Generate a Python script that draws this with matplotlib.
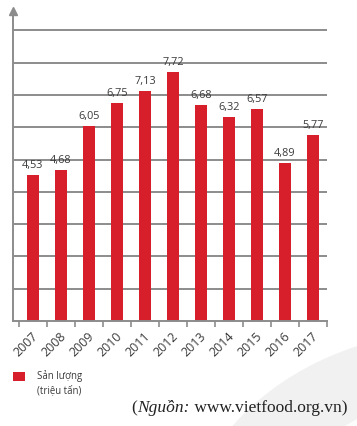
import matplotlib
matplotlib.use("Agg")
import matplotlib.pyplot as plt
from matplotlib.patches import Ellipse, Rectangle
import numpy as np

years = ["2007", "2008", "2009", "2010", "2011", "2012", "2013", "2014", "2015", "2016", "2017"]
values = [4.53, 4.68, 6.05, 6.75, 7.13, 7.72, 6.68, 6.32, 6.57, 4.89, 5.77]
value_labels = ["4,53", "4,68", "6,05", "6,75", "7,13", "7,72", "6,68", "6,32", "6,57", "4,89", "5,77"]
grid_levels = [1, 2, 3, 4, 5, 6, 7, 8, 9]
legend_label = "Sản lượng\n(triệu tấn)"
source_italic = "Nguồn:"
source_rest = " www.vietfood.org.vn)"

W, H = 357, 426
fig = plt.figure(figsize=(W / 100, H / 100), dpi=100)
fig.patch.set_facecolor("white")

# faint background swoosh (bottom right)
bg = fig.add_axes([0, 0, 1, 1], zorder=-10)
bg.set_xlim(0, W)
bg.set_ylim(H, 0)
bg.axis("off")
bg.add_patch(Ellipse((460, 560), 560, 460, facecolor="#f1f1f1", edgecolor="none"))
bg.add_patch(Ellipse((495, 590), 500, 410, facecolor="white", edgecolor="none", alpha=0.85))
bg.add_patch(Ellipse((520, 610), 470, 380, facecolor="#f2f2f2", edgecolor="none"))

red = "#d71f2b"
grey = "#8c8c8c"
txt = "#3a3a3a"
font = "Open Sans"

ax = fig.add_axes([13 / W, 1 - 321 / H, (327 - 13) / W, (321 - 11) / H])
ax.set_facecolor("none")
x = np.arange(len(years))
ax.set_xlim(-0.71, 10.39)
ax.set_ylim(0, 9.6)

for g in grid_levels:
    ax.axhline(g, color=grey, lw=1.4, zorder=1)

ax.bar(x, values, width=0.43, color=red, zorder=2)

for xi, v, lab in zip(x, values, value_labels):
    ax.text(xi, v + 0.12, lab, ha="center", va="bottom", fontsize=7.8,
            color=txt, family=font, zorder=3)

for s in ["top", "right"]:
    ax.spines[s].set_visible(False)
ax.spines["left"].set_color(grey)
ax.spines["bottom"].set_color(grey)
ax.spines["left"].set_linewidth(1.4)
ax.spines["bottom"].set_linewidth(1.4)
ax.set_yticks([])
ax.set_xticks(np.arange(-0.5, len(years), 1.0))
ax.set_xticklabels([])
ax.tick_params(axis="x", length=4, width=1.2, color=grey, direction="out")
# arrow on y axis
ax.plot([-0.71], [9.6], marker="^", markersize=6, color=grey, clip_on=False,
        transform=ax.transData, zorder=4)

trans = ax.get_xaxis_transform()
for xi, yr in zip(x, years):
    ax.text(xi - 0.25, -0.076, yr, rotation=45, ha="center", va="center",
            fontsize=9, color=txt, family=font, transform=trans)

# legend
fig.patches.append(Rectangle((13 / W, 1 - 381 / H), 12 / W, 9 / H,
                             transform=fig.transFigure, facecolor=red, edgecolor="none"))
fig.text(37 / W, 1 - 383 / H, legend_label, ha="left", va="center", fontsize=6.9,
         color=txt, family=font, linespacing=1.3)

# source
fig.canvas.draw()
r = fig.canvas.get_renderer()
fs = 12.5
t3 = fig.text(347 / W, 1 - 408 / H, source_rest, ha="right", va="center",
              fontsize=fs, family="Liberation Serif", color="#222222")
bb = t3.get_window_extent(renderer=r)
t2 = fig.text(bb.x0 / W, 1 - 408 / H, source_italic, ha="right", va="center",
              fontsize=fs, family="Liberation Serif", style="italic", color="#222222")
bb2 = t2.get_window_extent(renderer=r)
fig.text(bb2.x0 / W, 1 - 408 / H, "(", ha="right", va="center",
         fontsize=fs, family="Liberation Serif", color="#222222")

fig.savefig("out.png", dpi=100)
